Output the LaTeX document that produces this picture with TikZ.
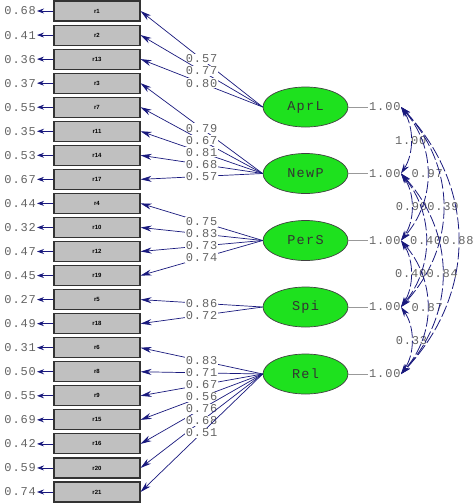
\documentclass[tikz,border=0pt]{standalone}
\usepackage{fontspec}
\setmainfont{Liberation Sans}
\newfontfamily\lisrelnum[LetterSpace=7]{Liberation Mono}
\newfontfamily\lisrellat[LetterSpace=10]{Liberation Mono}
\usetikzlibrary{arrows.meta,shapes.geometric,calc}
\definecolor{navy}{RGB}{25,25,125}
\definecolor{numgray}{RGB}{100,100,100}
\definecolor{boxgray}{RGB}{192,192,192}
\definecolor{lvgreen}{RGB}{30,225,30}
\begin{document}
\begin{tikzpicture}[x=1pt,y=-1pt,
  obs/.style={draw=black!80,line width=1.1pt,fill=boxgray,minimum width=86pt,minimum height=20pt,inner sep=0pt,font=\fontsize{6}{7}\selectfont\bfseries},
  lat/.style={ellipse,draw=black!75,line width=0.7pt,fill=lvgreen,minimum width=85pt,minimum height=40pt,inner sep=0pt,font=\lisrellat\fontsize{13.5}{14}\selectfont,text=black!80},
  num/.style={font=\lisrelnum\fontsize{12}{13}\selectfont,text=numgray,inner sep=1pt},
  errarr/.style={navy,line width=0.8pt,-{Stealth[length=7pt,width=5pt]}},
  loadarr/.style={navy,line width=0.7pt,-{Stealth[length=11pt,width=6pt]}},
  covarr/.style={navy,line width=0.8pt,dash pattern=on 12pt off 3pt,{Stealth[length=10pt,width=6pt]}-{Stealth[length=10pt,width=6pt]}},
  varline/.style={draw=black!40,line width=0.6pt}
]
\useasboundingbox (0,0) rectangle (474,504);

% observed variables with error variances
\foreach \n/\e [count=\i from 0] in {r1/0.68,r2/0.41,r13/0.36,r3/0.37,r7/0.55,r11/0.35,r14/0.53,r17/0.67,r4/0.44,r10/0.32,r12/0.47,r19/0.45,r5/0.27,r18/0.49,r6/0.31,r8/0.50,r9/0.55,r15/0.69,r16/0.42,r20/0.59,r21/0.74} {
  \node[obs] (\n) at (97,{11+24.05*\i}) {\n};
  \node[num,anchor=east] (e\n) at (37,{11+24.05*\i}) {\e};
  \draw[errarr] (\n.west) -- (e\n.east);
}

% latent variables
\foreach \f/\y in {AprL/107,NewP/173.5,PerS/240.5,Spi/307,Rel/374} {
  \node[lat] (\f) at (305.5,\y) {\f};
  \node[num,anchor=west] (v\f) at (368,\y) {1.00};
  \draw[varline] (\f.east) -- (v\f.west);
  \coordinate (k\f) at (401,\y);
}

% loadings
\foreach \f/\n/\v in {AprL/r1/0.57,AprL/r2/0.77,AprL/r13/0.80,
  NewP/r3/0.79,NewP/r7/0.67,NewP/r11/0.81,NewP/r14/0.68,NewP/r17/0.57,
  PerS/r4/0.75,PerS/r10/0.83,PerS/r12/0.73,PerS/r19/0.74,
  Spi/r5/0.86,Spi/r18/0.72,
  Rel/r6/0.83,Rel/r8/0.71,Rel/r9/0.67,Rel/r15/0.56,Rel/r16/0.76,Rel/r20/0.68,Rel/r21/0.51} {
  \draw[loadarr] (\f.west) -- node[num,fill=white,pos=0.5] {\v} (\n.east);
}

% covariances
\foreach \a/\b/\cx/\ky/\v in {AprL/NewP/13/20/1.00,NewP/PerS/14/20/0.90,PerS/Spi/13/20/0.40,Spi/Rel/14/20/0.33,
  AprL/PerS/35/40/0.97,NewP/Spi/33/40/0.40,PerS/Rel/35/40/0.87,
  AprL/Spi/56/60/0.39,NewP/Rel/55/60/0.84,
  AprL/Rel/76/80/0.88} {
  \draw[covarr] (k\a) .. controls ($(k\a)+(\cx,\ky)$) and ($(k\b)+(\cx,-\ky)$) .. node[num,pos=0.5] {\v} (k\b);
}
\end{tikzpicture}
\end{document}
